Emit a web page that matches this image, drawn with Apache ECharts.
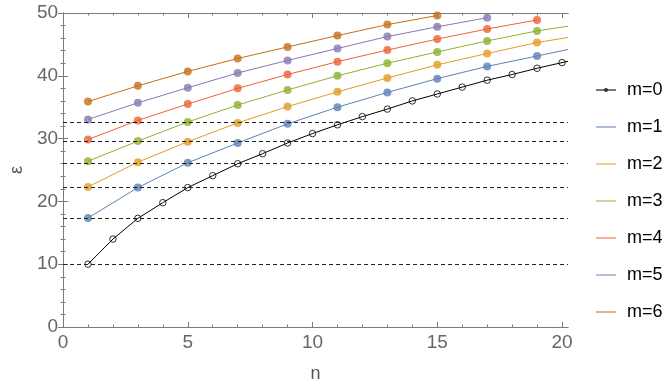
<!DOCTYPE html>
<html>
<head>
<meta charset="utf-8">
<script src="https://cdn.jsdelivr.net/npm/echarts@6/dist/echarts.min.js"></script>
<style>
    html, body { margin: 0; padding: 0; background: #fff; }
    #chart { width: 669px; height: 388px; }
</style>
</head>
<body>
<div id="chart"></div>
<script>
// n 取值
const nAll = [1, 2, 3, 4, 5, 6, 7, 8, 9, 10, 11, 12, 13, 14, 15, 16, 17, 18, 19, 20];
const nOdd = [1, 3, 5, 7, 9, 11, 13, 15, 17, 19];
// 右边框处的 n（线延伸到边框）
const nEdge = 20.24;

// 各 m 的能级
const e0 = [10.0, 14.0, 17.3, 19.8, 22.2, 24.1, 26.0, 27.6, 29.3, 30.8,
            32.2, 33.5, 34.7, 36.0, 37.1, 38.2, 39.3, 40.2, 41.2, 42.1];
const e1 = [17.35, 22.2, 26.15, 29.3, 32.35, 35.0, 37.35, 39.55, 41.5, 43.15];
const e2 = [22.3, 26.25, 29.5, 32.5, 35.1, 37.45, 39.65, 41.75, 43.55, 45.3];
const e3 = [26.4, 29.6, 32.65, 35.35, 37.75, 40.0, 42.0, 43.8, 45.55, 47.15];
const e4 = [29.85, 32.9, 35.5, 38.0, 40.2, 42.25, 44.1, 45.85, 47.45, 48.9];
const e5 = [33.05, 35.7, 38.1, 40.45, 42.45, 44.35, 46.25, 47.8, 49.25];
const e6 = [35.9, 38.4, 40.7, 42.75, 44.6, 46.4, 48.15, 49.6];
// 边框处的值（没有则为 null）
const edgeVals = [42.3, 44.2, 46.1, 47.9, null, null, null];

// 虚线水平参考线
const levels = [10, 17.3, 22.2, 26.15, 29.6, 32.6];

// 刻度
const xMajor = [0, 5, 10, 15, 20];
const xMinor = [1, 2, 3, 4, 6, 7, 8, 9, 11, 12, 13, 14, 16, 17, 18, 19];

const names = ['m=0', 'm=1', 'm=2', 'm=3', 'm=4', 'm=5', 'm=6'];
const colors = ['#000000', '#5E81B5', '#E19C24', '#8FB032', '#EB6235', '#8778B3', '#C56E1A'];
const legendColors = ['#777777', '#abbdda', '#efcd8f', '#c5d79a', '#f4b09a', '#c2bbd9', '#e0b68d'];

const allE = [e0, e1, e2, e3, e4, e5, e6];
const FONT = 'Liberation Sans, Arial, sans-serif';
const frameColor = '#7a7a7a';

const chart = echarts.init(document.getElementById('chart'));

// 生成系列：线 + 点
const getSeries = () => {
    const series = [];
    allE.forEach((vals, k) => {
        const ns = k === 0 ? nAll : nOdd;
        const pts = vals.map((v, i) => [ns[i], v]);
        const lineData = edgeVals[k] != null ? pts.concat([[nEdge, edgeVals[k]]]) : pts;
        series.push({
            type: 'line',
            name: names[k],
            data: lineData,
            symbol: 'circle',
            showSymbol: false,
            lineStyle: { color: colors[k], width: 1 },
            itemStyle: { color: colors[k] },
            z: 2,
            markLine: k === 0 ? {
                silent: true,
                symbol: ['none', 'none'],
                label: { show: false },
                lineStyle: { type: [4, 3], color: '#222', width: 1 },
                data: levels.map(y => ({ yAxis: y })),
            } : undefined,
        });
        series.push({
            type: 'scatter',
            data: pts,
            symbol: 'circle',
            symbolSize: k === 0 ? 6.5 : 8,
            itemStyle: k === 0
                ? { color: 'transparent', borderColor: '#000', borderWidth: 1 }
                : { color: colors[k] },
            z: 3,
        });
    });
    return series;
};

const tickX = (position, withLabels, values, len) => ({
    type: 'value',
    position: position,
    min: 0,
    max: nEdge,
    gridIndex: 0,
    axisLine: { show: true, lineStyle: { color: frameColor } },
    axisTick: { show: true, inside: true, length: len, customValues: values, lineStyle: { color: frameColor } },
    axisLabel: withLabels
        ? { show: true, customValues: values, color: '#666', fontSize: 19, fontFamily: FONT, margin: 6 }
        : { show: false },
    splitLine: { show: false },
});

const tickY = (position, withLabels) => ({
    type: 'value',
    position: position,
    min: 0,
    max: 50,
    interval: 10,
    axisLine: { show: true, lineStyle: { color: frameColor } },
    axisTick: { show: true, inside: true, length: 5, lineStyle: { color: frameColor } },
    minorTick: { show: true, splitNumber: 5, length: 2.5, lineStyle: { color: frameColor } },
    axisLabel: withLabels
        ? { show: true, color: '#666', fontSize: 19, fontFamily: FONT, margin: 5 }
        : { show: false },
    splitLine: { show: false },
});

const xMain = tickX('bottom', true, xMajor, 5);
xMain.name = 'n';
xMain.nameLocation = 'middle';
xMain.nameGap = 38;
xMain.nameTextStyle = { color: '#555', fontSize: 18, fontFamily: FONT };

const yMain = tickY('left', true);
yMain.name = 'ε';
yMain.nameLocation = 'middle';
yMain.nameGap = 34;
yMain.nameTextStyle = { color: '#555', fontSize: 18, fontFamily: FONT };

chart.setOption({
    animation: false,
    grid: { left: 58, top: 13, width: 510, height: 314 },
    xAxis: [
        xMain,
        tickX('bottom', false, xMinor, 2.5),
        tickX('top', false, xMajor, 5),
        tickX('top', false, xMinor, 2.5),
    ],
    yAxis: [
        yMain,
        tickY('right', false),
    ],
    legend: {
        orient: 'vertical',
        left: 590,
        top: 76,
        itemWidth: 20,
        itemHeight: 5,
        itemGap: 19,
        textStyle: { fontSize: 18, color: '#000', fontFamily: FONT, padding: [0, 0, 0, 6] },
        data: names.map((nm, k) => ({
            name: nm,
            lineStyle: { color: legendColors[k] },
            itemStyle: k === 0 ? { color: '#333' } : { opacity: 0 },
        })),
    },
    series: getSeries(),
});
</script>
</body>
</html>
